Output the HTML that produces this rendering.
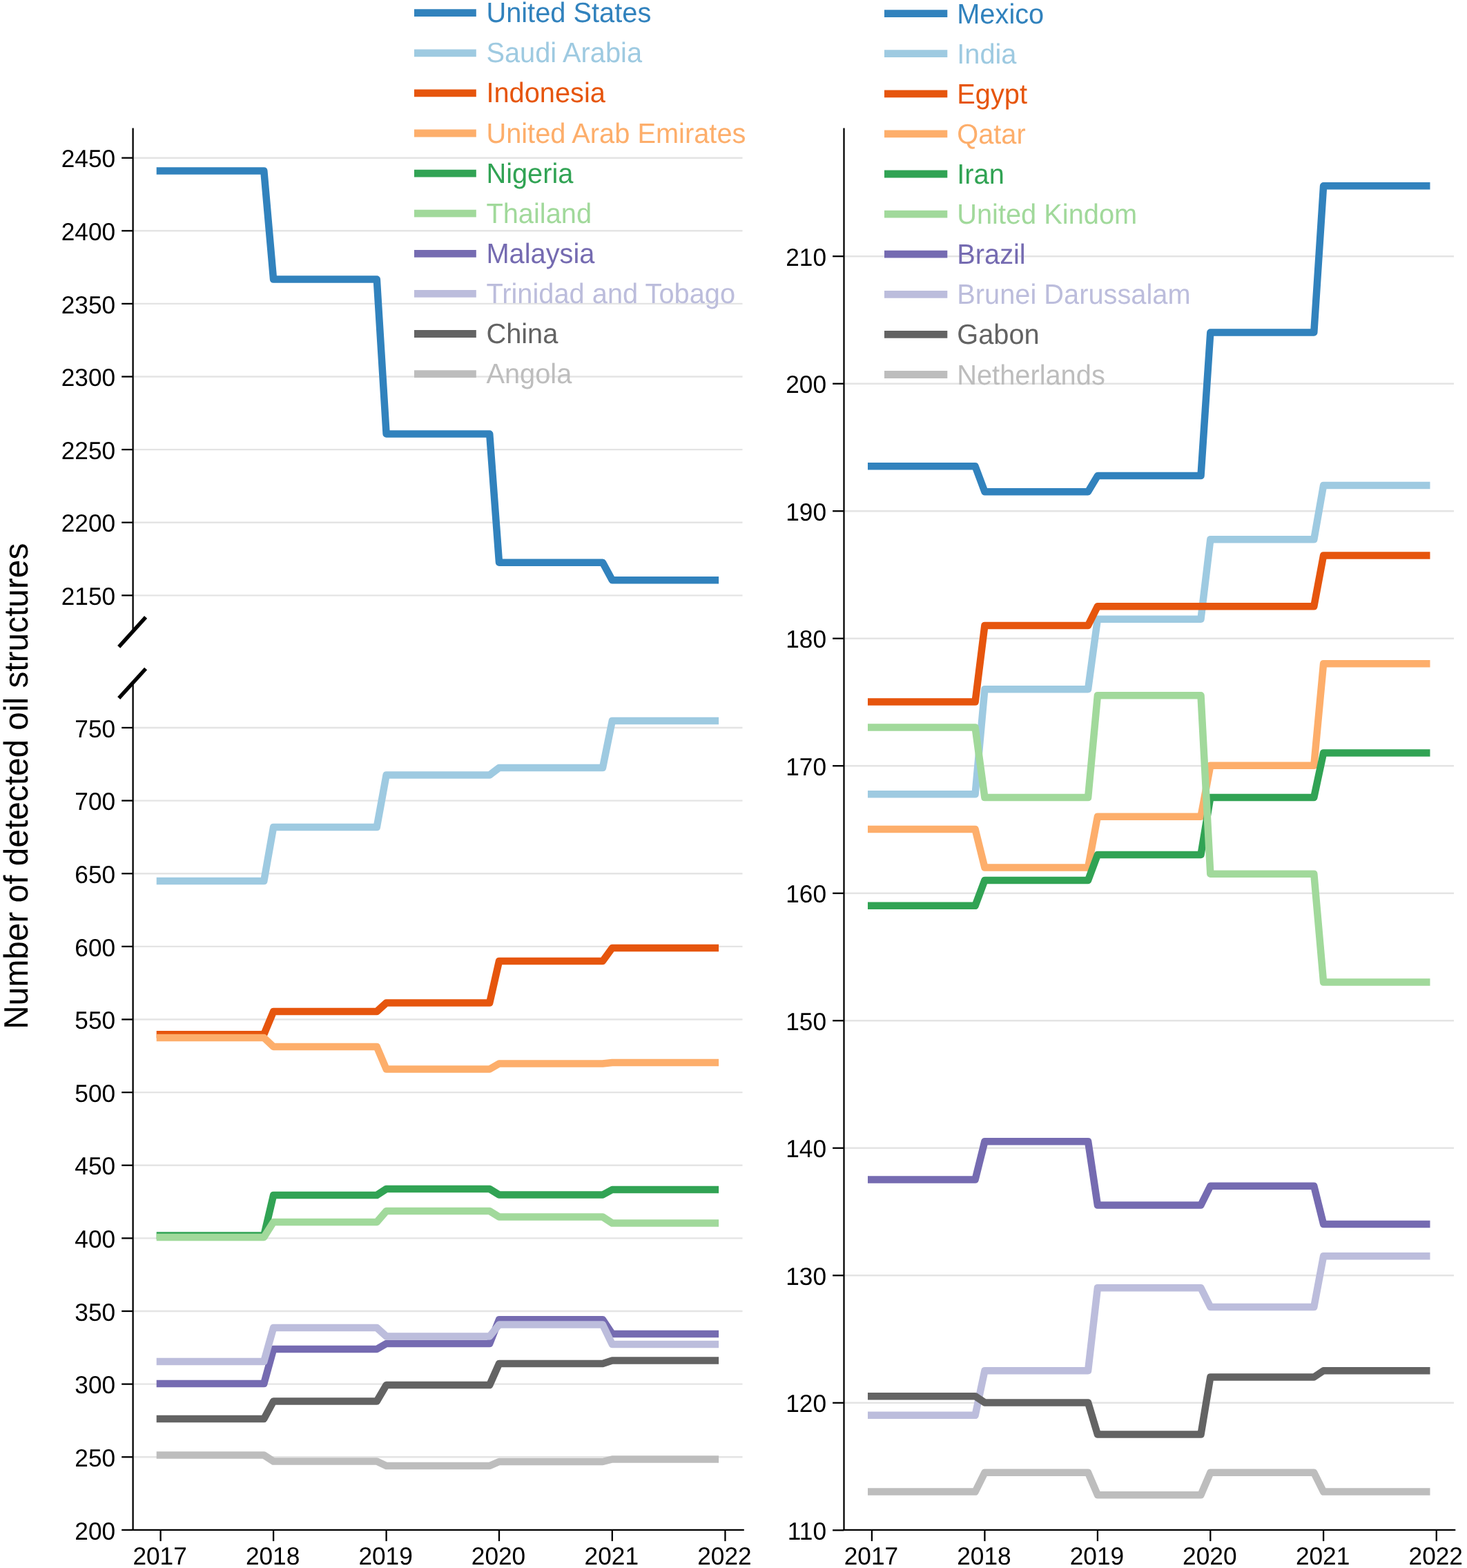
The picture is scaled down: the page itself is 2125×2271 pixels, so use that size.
<!DOCTYPE html>
<html lang="en"><head><meta charset="utf-8"><title>Number of detected oil structures</title>
<style>html,body{margin:0;padding:0;background:#fff}body{width:2125px;height:2271px;overflow:hidden}svg{display:block}text{font-family:"Liberation Sans", Arial, Helvetica, sans-serif;text-rendering:geometricPrecision}</style>
</head><body>
<svg width="2125" height="2271" viewBox="0 0 2125 2271">
<rect width="2125" height="2271" fill="#ffffff"/>
<g stroke="#e4e4e4" stroke-width="2.4" fill="none">
<line x1="192.6" y1="2110.27" x2="1075.5" y2="2110.27"/>
<line x1="192.6" y1="2004.64" x2="1075.5" y2="2004.64"/>
<line x1="192.6" y1="1899.01" x2="1075.5" y2="1899.01"/>
<line x1="192.6" y1="1793.38" x2="1075.5" y2="1793.38"/>
<line x1="192.6" y1="1687.75" x2="1075.5" y2="1687.75"/>
<line x1="192.6" y1="1582.12" x2="1075.5" y2="1582.12"/>
<line x1="192.6" y1="1476.49" x2="1075.5" y2="1476.49"/>
<line x1="192.6" y1="1370.86" x2="1075.5" y2="1370.86"/>
<line x1="192.6" y1="1265.23" x2="1075.5" y2="1265.23"/>
<line x1="192.6" y1="1159.6" x2="1075.5" y2="1159.6"/>
<line x1="192.6" y1="1053.97" x2="1075.5" y2="1053.97"/>
<line x1="192.6" y1="862.34" x2="1075.5" y2="862.34"/>
<line x1="192.6" y1="756.73" x2="1075.5" y2="756.73"/>
<line x1="192.6" y1="651.12" x2="1075.5" y2="651.12"/>
<line x1="192.6" y1="545.51" x2="1075.5" y2="545.51"/>
<line x1="192.6" y1="439.9" x2="1075.5" y2="439.9"/>
<line x1="192.6" y1="334.29" x2="1075.5" y2="334.29"/>
<line x1="192.6" y1="228.68" x2="1075.5" y2="228.68"/>
</g>
<g fill="none" stroke-width="10.5" stroke-linejoin="round" stroke-linecap="butt">
<path stroke="#3182bd" d="M226.7 247.4 L382.3 247.4 L396.1 404.5 L545.8 404.5 L559.6 628.5 L709.2 628.5 L723 814.7 L873 814.7 L886.8 840.3 L1041.1 840.3"/>
<path stroke="#9ecae1" d="M226.7 1276 L382.3 1276 L396.1 1198 L545.8 1198 L559.6 1122.5 L709.2 1122.5 L723 1112 L873 1112 L886.8 1044 L1041.1 1044"/>
<path stroke="#e6550d" d="M226.7 1498.2 L382.3 1498.2 L396.1 1465 L545.8 1465 L559.6 1452.5 L709.2 1452.5 L723 1392 L873 1392 L886.8 1373 L1041.1 1373"/>
<path stroke="#fdae6b" d="M226.7 1503 L382.3 1503 L396.1 1516 L545.8 1516 L559.6 1548.5 L709.2 1548.5 L723 1540.5 L873 1540.5 L886.8 1539 L1041.1 1539"/>
<path stroke="#31a354" d="M226.7 1789.6 L382.3 1789.6 L396.1 1731 L545.8 1731 L559.6 1722 L709.2 1722 L723 1730.5 L873 1730.5 L886.8 1723 L1041.1 1723"/>
<path stroke="#a1d99b" d="M226.7 1791.9 L382.3 1791.9 L396.1 1770 L545.8 1770 L559.6 1754 L709.2 1754 L723 1762.5 L873 1762.5 L886.8 1771.5 L1041.1 1771.5"/>
<path stroke="#756bb1" d="M226.7 2004 L382.3 2004 L396.1 1954 L545.8 1954 L559.6 1946 L709.2 1946 L723 1911.2 L873 1911.2 L886.8 1932 L1041.1 1932"/>
<path stroke="#bcbddc" d="M226.7 1972 L382.3 1972 L396.1 1923 L545.8 1923 L559.6 1935.5 L709.2 1935.5 L723 1918.5 L873 1918.5 L886.8 1947 L1041.1 1947"/>
<path stroke="#636363" d="M226.7 2055 L382.3 2055 L396.1 2029.5 L545.8 2029.5 L559.6 2006 L709.2 2006 L723 1975 L873 1975 L886.8 1970.5 L1041.1 1970.5"/>
<path stroke="#bdbdbd" d="M226.7 2107.5 L382.3 2107.5 L396.1 2116.5 L545.8 2116.5 L559.6 2123 L709.2 2123 L723 2117 L873 2117 L886.8 2113.5 L1041.1 2113.5"/>
</g>
<g stroke="#000" stroke-width="2.3" fill="none" stroke-linecap="butt">
<line x1="192.6" y1="185.5" x2="192.6" y2="915.4"/>
<line x1="192.6" y1="989.85" x2="192.6" y2="2217.05"/>
<line x1="191.45" y1="2215.9" x2="1077.8" y2="2215.9"/>
<line x1="176.2" y1="2215.9" x2="192.6" y2="2215.9"/>
<line x1="176.2" y1="2110.27" x2="192.6" y2="2110.27"/>
<line x1="176.2" y1="2004.64" x2="192.6" y2="2004.64"/>
<line x1="176.2" y1="1899.01" x2="192.6" y2="1899.01"/>
<line x1="176.2" y1="1793.38" x2="192.6" y2="1793.38"/>
<line x1="176.2" y1="1687.75" x2="192.6" y2="1687.75"/>
<line x1="176.2" y1="1582.12" x2="192.6" y2="1582.12"/>
<line x1="176.2" y1="1476.49" x2="192.6" y2="1476.49"/>
<line x1="176.2" y1="1370.86" x2="192.6" y2="1370.86"/>
<line x1="176.2" y1="1265.23" x2="192.6" y2="1265.23"/>
<line x1="176.2" y1="1159.6" x2="192.6" y2="1159.6"/>
<line x1="176.2" y1="1053.97" x2="192.6" y2="1053.97"/>
<line x1="176.2" y1="862.34" x2="192.6" y2="862.34"/>
<line x1="176.2" y1="756.73" x2="192.6" y2="756.73"/>
<line x1="176.2" y1="651.12" x2="192.6" y2="651.12"/>
<line x1="176.2" y1="545.51" x2="192.6" y2="545.51"/>
<line x1="176.2" y1="439.9" x2="192.6" y2="439.9"/>
<line x1="176.2" y1="334.29" x2="192.6" y2="334.29"/>
<line x1="176.2" y1="228.68" x2="192.6" y2="228.68"/>
<line x1="232.6" y1="2215.9" x2="232.6" y2="2232.1"/>
<line x1="396.1" y1="2215.9" x2="396.1" y2="2232.1"/>
<line x1="559.6" y1="2215.9" x2="559.6" y2="2232.1"/>
<line x1="723" y1="2215.9" x2="723" y2="2232.1"/>
<line x1="886.8" y1="2215.9" x2="886.8" y2="2232.1"/>
<line x1="1050.45" y1="2215.9" x2="1050.45" y2="2232.1"/>
</g>
<g stroke="#000" stroke-width="5.5" fill="none" stroke-linecap="butt">
<line x1="172.2" y1="936.8" x2="211.1" y2="893.8"/>
<line x1="172.2" y1="1011.1" x2="211.1" y2="968.5"/>
</g>
<g font-size="35.25" fill="#000" text-anchor="end">
<text transform="translate(167.1 2229.6) scale(1 1.02)">200</text>
<text transform="translate(167.1 2123.97) scale(1 1.02)">250</text>
<text transform="translate(167.1 2018.34) scale(1 1.02)">300</text>
<text transform="translate(167.1 1912.71) scale(1 1.02)">350</text>
<text transform="translate(167.1 1807.08) scale(1 1.02)">400</text>
<text transform="translate(167.1 1701.45) scale(1 1.02)">450</text>
<text transform="translate(167.1 1595.82) scale(1 1.02)">500</text>
<text transform="translate(167.1 1490.19) scale(1 1.02)">550</text>
<text transform="translate(167.1 1384.56) scale(1 1.02)">600</text>
<text transform="translate(167.1 1278.93) scale(1 1.02)">650</text>
<text transform="translate(167.1 1173.3) scale(1 1.02)">700</text>
<text transform="translate(167.1 1067.67) scale(1 1.02)">750</text>
<text transform="translate(167.1 876.04) scale(1 1.02)">2150</text>
<text transform="translate(167.1 770.43) scale(1 1.02)">2200</text>
<text transform="translate(167.1 664.82) scale(1 1.02)">2250</text>
<text transform="translate(167.1 559.21) scale(1 1.02)">2300</text>
<text transform="translate(167.1 453.6) scale(1 1.02)">2350</text>
<text transform="translate(167.1 347.99) scale(1 1.02)">2400</text>
<text transform="translate(167.1 242.38) scale(1 1.02)">2450</text>
</g>
<g font-size="35.25" fill="#000" text-anchor="middle">
<text transform="translate(231.6 2266) scale(1 1.02)">2017</text>
<text transform="translate(395.1 2266) scale(1 1.02)">2018</text>
<text transform="translate(558.6 2266) scale(1 1.02)">2019</text>
<text transform="translate(722 2266) scale(1 1.02)">2020</text>
<text transform="translate(885.8 2266) scale(1 1.02)">2021</text>
<text transform="translate(1049.45 2266) scale(1 1.02)">2022</text>
</g>
<g stroke="#e4e4e4" stroke-width="2.4" fill="none">
<line x1="1222.5" y1="2031.79" x2="2106" y2="2031.79"/>
<line x1="1222.5" y1="1847.28" x2="2106" y2="1847.28"/>
<line x1="1222.5" y1="1662.77" x2="2106" y2="1662.77"/>
<line x1="1222.5" y1="1478.26" x2="2106" y2="1478.26"/>
<line x1="1222.5" y1="1293.75" x2="2106" y2="1293.75"/>
<line x1="1222.5" y1="1109.24" x2="2106" y2="1109.24"/>
<line x1="1222.5" y1="924.73" x2="2106" y2="924.73"/>
<line x1="1222.5" y1="740.22" x2="2106" y2="740.22"/>
<line x1="1222.5" y1="555.71" x2="2106" y2="555.71"/>
<line x1="1222.5" y1="371.2" x2="2106" y2="371.2"/>
</g>
<g fill="none" stroke-width="10.5" stroke-linejoin="round" stroke-linecap="butt">
<path stroke="#3182bd" d="M1257 675.24 L1412.6 675.24 L1426.4 712.14 L1576.1 712.14 L1589.9 689.08 L1739.5 689.08 L1753.3 481.51 L1903.3 481.51 L1917.1 269.32 L2071.5 269.32"/>
<path stroke="#9ecae1" d="M1257 1150.35 L1412.6 1150.35 L1426.4 998.13 L1576.1 998.13 L1589.9 896.65 L1739.5 896.65 L1753.3 781.33 L1903.3 781.33 L1917.1 702.92 L2071.5 702.92"/>
<path stroke="#e6550d" d="M1257 1016.59 L1412.6 1016.59 L1426.4 905.88 L1576.1 905.88 L1589.9 878.2 L1739.5 878.2 L1753.3 878.2 L1903.3 878.2 L1917.1 804.4 L2071.5 804.4"/>
<path stroke="#fdae6b" d="M1257 1201.1 L1412.6 1201.1 L1426.4 1256.45 L1576.1 1256.45 L1589.9 1182.64 L1739.5 1182.64 L1753.3 1108.84 L1903.3 1108.84 L1917.1 961.23 L2071.5 961.23"/>
<path stroke="#31a354" d="M1257 1311.8 L1412.6 1311.8 L1426.4 1274.9 L1576.1 1274.9 L1589.9 1238 L1739.5 1238 L1753.3 1154.97 L1903.3 1154.97 L1917.1 1090.39 L2071.5 1090.39"/>
<path stroke="#a1d99b" d="M1257 1053.49 L1412.6 1053.49 L1426.4 1154.97 L1576.1 1154.97 L1589.9 1007.36 L1739.5 1007.36 L1753.3 1265.67 L1903.3 1265.67 L1917.1 1422.51 L2071.5 1422.51"/>
<path stroke="#756bb1" d="M1257 1708.5 L1412.6 1708.5 L1426.4 1653.14 L1576.1 1653.14 L1589.9 1745.4 L1739.5 1745.4 L1753.3 1717.72 L1903.3 1717.72 L1917.1 1773.08 L2071.5 1773.08"/>
<path stroke="#bcbddc" d="M1257 2049.84 L1412.6 2049.84 L1426.4 1985.26 L1576.1 1985.26 L1589.9 1865.33 L1739.5 1865.33 L1753.3 1893.01 L1903.3 1893.01 L1917.1 1819.2 L2071.5 1819.2"/>
<path stroke="#636363" d="M1257 2022.16 L1412.6 2022.16 L1426.4 2031.39 L1576.1 2031.39 L1589.9 2077.52 L1739.5 2077.52 L1753.3 1994.49 L1903.3 1994.49 L1917.1 1985.26 L2071.5 1985.26"/>
<path stroke="#bdbdbd" d="M1257 2160.55 L1412.6 2160.55 L1426.4 2132.87 L1576.1 2132.87 L1589.9 2165.16 L1739.5 2165.16 L1753.3 2132.87 L1903.3 2132.87 L1917.1 2160.55 L2071.5 2160.55"/>
</g>
<g stroke="#000" stroke-width="2.3" fill="none" stroke-linecap="butt">
<line x1="1222.5" y1="185.5" x2="1222.5" y2="2217.05"/>
<line x1="1221.35" y1="2215.9" x2="2108.3" y2="2215.9"/>
<line x1="1206.1" y1="2216.3" x2="1222.5" y2="2216.3"/>
<line x1="1206.1" y1="2031.79" x2="1222.5" y2="2031.79"/>
<line x1="1206.1" y1="1847.28" x2="1222.5" y2="1847.28"/>
<line x1="1206.1" y1="1662.77" x2="1222.5" y2="1662.77"/>
<line x1="1206.1" y1="1478.26" x2="1222.5" y2="1478.26"/>
<line x1="1206.1" y1="1293.75" x2="1222.5" y2="1293.75"/>
<line x1="1206.1" y1="1109.24" x2="1222.5" y2="1109.24"/>
<line x1="1206.1" y1="924.73" x2="1222.5" y2="924.73"/>
<line x1="1206.1" y1="740.22" x2="1222.5" y2="740.22"/>
<line x1="1206.1" y1="555.71" x2="1222.5" y2="555.71"/>
<line x1="1206.1" y1="371.2" x2="1222.5" y2="371.2"/>
<line x1="1262.9" y1="2215.9" x2="1262.9" y2="2232.1"/>
<line x1="1426.4" y1="2215.9" x2="1426.4" y2="2232.1"/>
<line x1="1589.9" y1="2215.9" x2="1589.9" y2="2232.1"/>
<line x1="1753.3" y1="2215.9" x2="1753.3" y2="2232.1"/>
<line x1="1917.1" y1="2215.9" x2="1917.1" y2="2232.1"/>
<line x1="2080.75" y1="2215.9" x2="2080.75" y2="2232.1"/>
</g>
<g font-size="35.25" fill="#000" text-anchor="end">
<text transform="translate(1197 2230) scale(1 1.02)">110</text>
<text transform="translate(1197 2045.49) scale(1 1.02)">120</text>
<text transform="translate(1197 1860.98) scale(1 1.02)">130</text>
<text transform="translate(1197 1676.47) scale(1 1.02)">140</text>
<text transform="translate(1197 1491.96) scale(1 1.02)">150</text>
<text transform="translate(1197 1307.45) scale(1 1.02)">160</text>
<text transform="translate(1197 1122.94) scale(1 1.02)">170</text>
<text transform="translate(1197 938.43) scale(1 1.02)">180</text>
<text transform="translate(1197 753.92) scale(1 1.02)">190</text>
<text transform="translate(1197 569.41) scale(1 1.02)">200</text>
<text transform="translate(1197 384.9) scale(1 1.02)">210</text>
</g>
<g font-size="35.25" fill="#000" text-anchor="middle">
<text transform="translate(1261.9 2266) scale(1 1.02)">2017</text>
<text transform="translate(1425.4 2266) scale(1 1.02)">2018</text>
<text transform="translate(1588.9 2266) scale(1 1.02)">2019</text>
<text transform="translate(1752.3 2266) scale(1 1.02)">2020</text>
<text transform="translate(1916.1 2266) scale(1 1.02)">2021</text>
<text transform="translate(2079.75 2266) scale(1 1.02)">2022</text>
</g>
<g>
<line x1="600" y1="18.7" x2="689.8" y2="18.7" stroke="#3182bd" stroke-width="10.8"/>
<text transform="translate(704.4 32.2) scale(1 1.02)" font-size="39.8" fill="#3182bd">United States</text>
<line x1="600" y1="76.8" x2="689.8" y2="76.8" stroke="#9ecae1" stroke-width="10.8"/>
<text transform="translate(704.4 90.3) scale(1 1.02)" font-size="39.8" fill="#9ecae1">Saudi Arabia</text>
<line x1="600" y1="134.9" x2="689.8" y2="134.9" stroke="#e6550d" stroke-width="10.8"/>
<text transform="translate(704.4 148.4) scale(1 1.02)" font-size="39.8" fill="#e6550d">Indonesia</text>
<line x1="600" y1="193" x2="689.8" y2="193" stroke="#fdae6b" stroke-width="10.8"/>
<text transform="translate(704.4 206.5) scale(1 1.02)" font-size="39.8" fill="#fdae6b">United Arab Emirates</text>
<line x1="600" y1="251.1" x2="689.8" y2="251.1" stroke="#31a354" stroke-width="10.8"/>
<text transform="translate(704.4 264.6) scale(1 1.02)" font-size="39.8" fill="#31a354">Nigeria</text>
<line x1="600" y1="309.2" x2="689.8" y2="309.2" stroke="#a1d99b" stroke-width="10.8"/>
<text transform="translate(704.4 322.7) scale(1 1.02)" font-size="39.8" fill="#a1d99b">Thailand</text>
<line x1="600" y1="367.3" x2="689.8" y2="367.3" stroke="#756bb1" stroke-width="10.8"/>
<text transform="translate(704.4 380.8) scale(1 1.02)" font-size="39.8" fill="#756bb1">Malaysia</text>
<line x1="600" y1="425.4" x2="689.8" y2="425.4" stroke="#bcbddc" stroke-width="10.8"/>
<text transform="translate(704.4 438.9) scale(1 1.02)" font-size="39.8" fill="#bcbddc">Trinidad and Tobago</text>
<line x1="600" y1="483.5" x2="689.8" y2="483.5" stroke="#636363" stroke-width="10.8"/>
<text transform="translate(704.4 497) scale(1 1.02)" font-size="39.8" fill="#636363">China</text>
<line x1="600" y1="541.6" x2="689.8" y2="541.6" stroke="#bdbdbd" stroke-width="10.8"/>
<text transform="translate(704.4 555.1) scale(1 1.02)" font-size="39.8" fill="#bdbdbd">Angola</text>
</g>
<g>
<line x1="1281" y1="19.6" x2="1372.3" y2="19.6" stroke="#3182bd" stroke-width="10.8"/>
<text transform="translate(1386.2 33.6) scale(1 1.02)" font-size="39.8" fill="#3182bd">Mexico</text>
<line x1="1281" y1="77.7" x2="1372.3" y2="77.7" stroke="#9ecae1" stroke-width="10.8"/>
<text transform="translate(1386.2 91.7) scale(1 1.02)" font-size="39.8" fill="#9ecae1">India</text>
<line x1="1281" y1="135.8" x2="1372.3" y2="135.8" stroke="#e6550d" stroke-width="10.8"/>
<text transform="translate(1386.2 149.8) scale(1 1.02)" font-size="39.8" fill="#e6550d">Egypt</text>
<line x1="1281" y1="193.9" x2="1372.3" y2="193.9" stroke="#fdae6b" stroke-width="10.8"/>
<text transform="translate(1386.2 207.9) scale(1 1.02)" font-size="39.8" fill="#fdae6b">Qatar</text>
<line x1="1281" y1="252" x2="1372.3" y2="252" stroke="#31a354" stroke-width="10.8"/>
<text transform="translate(1386.2 266) scale(1 1.02)" font-size="39.8" fill="#31a354">Iran</text>
<line x1="1281" y1="310.1" x2="1372.3" y2="310.1" stroke="#a1d99b" stroke-width="10.8"/>
<text transform="translate(1386.2 324.1) scale(1 1.02)" font-size="39.8" fill="#a1d99b">United Kindom</text>
<line x1="1281" y1="368.2" x2="1372.3" y2="368.2" stroke="#756bb1" stroke-width="10.8"/>
<text transform="translate(1386.2 382.2) scale(1 1.02)" font-size="39.8" fill="#756bb1">Brazil</text>
<line x1="1281" y1="426.3" x2="1372.3" y2="426.3" stroke="#bcbddc" stroke-width="10.8"/>
<text transform="translate(1386.2 440.3) scale(1 1.02)" font-size="39.8" fill="#bcbddc">Brunei Darussalam</text>
<line x1="1281" y1="484.4" x2="1372.3" y2="484.4" stroke="#636363" stroke-width="10.8"/>
<text transform="translate(1386.2 498.4) scale(1 1.02)" font-size="39.8" fill="#636363">Gabon</text>
<line x1="1281" y1="542.5" x2="1372.3" y2="542.5" stroke="#bdbdbd" stroke-width="10.8"/>
<text transform="translate(1386.2 556.5) scale(1 1.02)" font-size="39.8" fill="#bdbdbd">Netherlands</text>
</g>
<text font-size="47.8" fill="#000" transform="translate(40.0 1490.7) rotate(-90) scale(1 1.025)">Number of detected oil structures</text>
</svg>
</body></html>
